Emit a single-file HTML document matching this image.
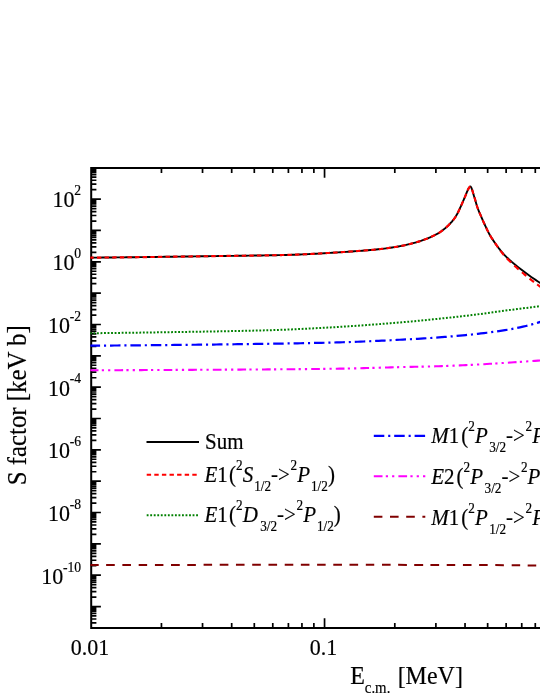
<!DOCTYPE html>
<html><head><meta charset="utf-8"><title>S factor</title>
<style>html,body{margin:0;padding:0;background:#fff;}body{width:540px;height:699px;overflow:hidden;font-family:"Liberation Serif",serif;}svg{display:block;will-change:transform;}</style>
</head><body>
<svg width="540" height="699" viewBox="0 0 540 699">
<rect width="540" height="699" fill="#fff"/>
<g stroke="#000" fill="none">
<path d="M542,168.0 H91.2 V628.0 H542" stroke-width="2"/>
<path d="M91.2,622.93h5.2 M91.2,619.01h5.2 M91.2,615.97h5.2 M91.2,613.49h5.2 M91.2,611.39h5.2 M91.2,609.58h5.2 M91.2,607.97h5.2 M91.2,606.54h9.7 M91.2,597.11h5.2 M91.2,591.59h5.2 M91.2,587.67h5.2 M91.2,584.63h5.2 M91.2,582.15h5.2 M91.2,580.05h5.2 M91.2,578.24h5.2 M91.2,576.63h5.2 M91.2,575.20h9.7 M91.2,565.77h5.2 M91.2,560.25h5.2 M91.2,556.33h5.2 M91.2,553.29h5.2 M91.2,550.81h5.2 M91.2,548.71h5.2 M91.2,546.90h5.2 M91.2,545.29h5.2 M91.2,543.86h9.7 M91.2,534.43h5.2 M91.2,528.91h5.2 M91.2,524.99h5.2 M91.2,521.95h5.2 M91.2,519.47h5.2 M91.2,517.37h5.2 M91.2,515.56h5.2 M91.2,513.95h5.2 M91.2,512.52h9.7 M91.2,503.09h5.2 M91.2,497.57h5.2 M91.2,493.65h5.2 M91.2,490.61h5.2 M91.2,488.13h5.2 M91.2,486.03h5.2 M91.2,484.22h5.2 M91.2,482.61h5.2 M91.2,481.18h9.7 M91.2,471.75h5.2 M91.2,466.23h5.2 M91.2,462.31h5.2 M91.2,459.27h5.2 M91.2,456.79h5.2 M91.2,454.69h5.2 M91.2,452.88h5.2 M91.2,451.27h5.2 M91.2,449.84h9.7 M91.2,440.41h5.2 M91.2,434.89h5.2 M91.2,430.97h5.2 M91.2,427.93h5.2 M91.2,425.45h5.2 M91.2,423.35h5.2 M91.2,421.54h5.2 M91.2,419.93h5.2 M91.2,418.50h9.7 M91.2,409.07h5.2 M91.2,403.55h5.2 M91.2,399.63h5.2 M91.2,396.59h5.2 M91.2,394.11h5.2 M91.2,392.01h5.2 M91.2,390.20h5.2 M91.2,388.59h5.2 M91.2,387.16h9.7 M91.2,377.73h5.2 M91.2,372.21h5.2 M91.2,368.29h5.2 M91.2,365.25h5.2 M91.2,362.77h5.2 M91.2,360.67h5.2 M91.2,358.86h5.2 M91.2,357.25h5.2 M91.2,355.82h9.7 M91.2,346.39h5.2 M91.2,340.87h5.2 M91.2,336.95h5.2 M91.2,333.91h5.2 M91.2,331.43h5.2 M91.2,329.33h5.2 M91.2,327.52h5.2 M91.2,325.91h5.2 M91.2,324.48h9.7 M91.2,315.05h5.2 M91.2,309.53h5.2 M91.2,305.61h5.2 M91.2,302.57h5.2 M91.2,300.09h5.2 M91.2,297.99h5.2 M91.2,296.18h5.2 M91.2,294.57h5.2 M91.2,293.14h9.7 M91.2,283.71h5.2 M91.2,278.19h5.2 M91.2,274.27h5.2 M91.2,271.23h5.2 M91.2,268.75h5.2 M91.2,266.65h5.2 M91.2,264.84h5.2 M91.2,263.23h5.2 M91.2,261.80h9.7 M91.2,252.37h5.2 M91.2,246.85h5.2 M91.2,242.93h5.2 M91.2,239.89h5.2 M91.2,237.41h5.2 M91.2,235.31h5.2 M91.2,233.50h5.2 M91.2,231.89h5.2 M91.2,230.46h9.7 M91.2,221.03h5.2 M91.2,215.51h5.2 M91.2,211.59h5.2 M91.2,208.55h5.2 M91.2,206.07h5.2 M91.2,203.97h5.2 M91.2,202.16h5.2 M91.2,200.55h5.2 M91.2,199.12h9.7 M91.2,189.69h5.2 M91.2,184.17h5.2 M91.2,180.25h5.2 M91.2,177.21h5.2 M91.2,174.73h5.2 M91.2,172.63h5.2 M91.2,170.82h5.2 M91.2,169.21h5.2" stroke-width="1.7"/>
<path d="M161.45,628.0v-5 M161.45,168.0v5 M202.54,628.0v-5 M202.54,168.0v5 M231.69,628.0v-5 M231.69,168.0v5 M254.30,628.0v-5 M254.30,168.0v5 M272.78,628.0v-5 M272.78,168.0v5 M288.40,628.0v-5 M288.40,168.0v5 M301.94,628.0v-5 M301.94,168.0v5 M313.87,628.0v-5 M313.87,168.0v5 M324.55,628.0v-9.7 M324.55,168.0v9.7 M394.80,628.0v-5 M394.80,168.0v5 M435.89,628.0v-5 M435.89,168.0v5 M465.04,628.0v-5 M465.04,168.0v5 M487.65,628.0v-5 M487.65,168.0v5 M506.13,628.0v-5 M506.13,168.0v5 M521.75,628.0v-5 M521.75,168.0v5 M535.29,628.0v-5 M535.29,168.0v5" stroke-width="1.7"/>
</g>
<clipPath id="c"><rect x="90.2" y="168" width="460" height="460"/></clipPath>
<g clip-path="url(#c)" fill="none" stroke-width="2">
<path d="M90.20,257.70 L92.20,257.68 L94.20,257.66 L96.20,257.63 L98.20,257.61 L100.20,257.59 L102.20,257.57 L104.20,257.55 L106.20,257.53 L108.20,257.50 L110.20,257.48 L112.20,257.46 L114.20,257.44 L116.20,257.42 L118.20,257.39 L120.20,257.37 L122.20,257.35 L124.20,257.33 L126.20,257.30 L128.20,257.28 L130.20,257.26 L132.20,257.23 L134.20,257.21 L136.20,257.19 L138.20,257.16 L140.20,257.14 L142.20,257.11 L144.20,257.09 L146.20,257.06 L148.20,257.03 L150.20,257.01 L152.20,256.98 L154.20,256.95 L156.20,256.93 L158.20,256.90 L160.20,256.87 L162.20,256.85 L164.20,256.82 L166.20,256.79 L168.20,256.76 L170.20,256.73 L172.20,256.71 L174.20,256.68 L176.20,256.65 L178.20,256.62 L180.20,256.60 L182.20,256.57 L184.20,256.54 L186.20,256.51 L188.20,256.49 L190.20,256.46 L192.20,256.43 L194.20,256.40 L196.20,256.37 L198.20,256.34 L200.20,256.31 L202.20,256.28 L204.20,256.25 L206.20,256.22 L208.20,256.19 L210.20,256.16 L212.20,256.14 L214.20,256.11 L216.20,256.08 L218.20,256.05 L220.20,256.02 L222.20,255.99 L224.20,255.96 L226.20,255.93 L228.20,255.91 L230.20,255.88 L232.20,255.85 L234.20,255.83 L236.20,255.80 L238.20,255.78 L240.20,255.75 L242.20,255.73 L244.20,255.70 L246.20,255.68 L248.20,255.65 L250.20,255.63 L252.20,255.60 L254.20,255.57 L256.20,255.54 L258.20,255.51 L260.20,255.48 L262.20,255.45 L264.20,255.41 L266.20,255.38 L268.20,255.34 L270.20,255.30 L272.20,255.26 L274.20,255.22 L276.20,255.18 L278.20,255.14 L280.20,255.10 L282.20,255.05 L284.20,255.01 L286.20,254.96 L288.20,254.90 L290.20,254.84 L292.20,254.78 L294.20,254.71 L296.20,254.63 L298.20,254.55 L300.20,254.46 L302.20,254.38 L304.20,254.29 L306.20,254.19 L308.20,254.10 L310.20,254.00 L312.20,253.90 L314.20,253.80 L316.20,253.69 L318.20,253.58 L320.20,253.47 L322.20,253.35 L324.20,253.23 L326.20,253.11 L328.20,252.99 L330.20,252.86 L332.20,252.74 L334.20,252.61 L336.20,252.49 L338.20,252.36 L340.20,252.23 L342.20,252.10 L344.20,251.97 L346.20,251.84 L348.20,251.71 L350.20,251.57 L352.20,251.43 L354.20,251.28 L356.20,251.14 L358.20,250.99 L360.20,250.84 L362.20,250.69 L364.20,250.54 L366.20,250.38 L368.20,250.22 L370.20,250.05 L372.20,249.87 L374.20,249.69 L376.20,249.49 L378.20,249.28 L380.20,249.05 L382.20,248.82 L384.20,248.57 L386.20,248.32 L388.20,248.05 L390.20,247.77 L392.20,247.48 L394.20,247.18 L396.20,246.87 L398.20,246.53 L400.20,246.17 L402.20,245.78 L404.20,245.36 L406.20,244.91 L408.20,244.44 L410.20,243.95 L412.20,243.43 L414.20,242.89 L416.20,242.32 L418.20,241.72 L420.20,241.09 L422.20,240.42 L424.20,239.71 L426.20,238.96 L426.45,238.87 L426.70,238.77 L426.95,238.67 L427.20,238.57 L427.45,238.47 L427.70,238.37 L427.95,238.27 L428.20,238.16 L428.45,238.06 L428.70,237.96 L428.95,237.85 L429.20,237.74 L429.45,237.64 L429.70,237.53 L429.95,237.42 L430.20,237.31 L430.45,237.20 L430.70,237.08 L430.95,236.97 L431.20,236.85 L431.45,236.74 L431.70,236.62 L431.95,236.51 L432.20,236.39 L432.45,236.27 L432.70,236.15 L432.95,236.03 L433.20,235.90 L433.45,235.78 L433.70,235.66 L433.95,235.53 L434.20,235.41 L434.45,235.28 L434.70,235.15 L434.95,235.03 L435.20,234.90 L435.45,234.77 L435.70,234.64 L435.95,234.51 L436.20,234.38 L436.45,234.25 L436.70,234.12 L436.95,233.99 L437.20,233.86 L437.45,233.73 L437.70,233.59 L437.95,233.45 L438.20,233.31 L438.45,233.17 L438.70,233.02 L438.95,232.87 L439.20,232.72 L439.45,232.56 L439.70,232.40 L439.95,232.23 L440.20,232.06 L440.45,231.89 L440.70,231.71 L440.95,231.53 L441.20,231.34 L441.45,231.16 L441.70,230.97 L441.95,230.77 L442.20,230.58 L442.45,230.39 L442.70,230.19 L442.95,230.00 L443.20,229.80 L443.45,229.60 L443.70,229.41 L443.95,229.21 L444.20,229.01 L444.45,228.82 L444.70,228.62 L444.95,228.41 L445.20,228.21 L445.45,228.00 L445.70,227.79 L445.95,227.58 L446.20,227.36 L446.45,227.14 L446.70,226.92 L446.95,226.69 L447.20,226.46 L447.45,226.23 L447.70,225.99 L447.95,225.75 L448.20,225.51 L448.45,225.27 L448.70,225.02 L448.95,224.77 L449.20,224.51 L449.45,224.26 L449.70,224.00 L449.95,223.74 L450.20,223.48 L450.45,223.22 L450.70,222.95 L450.95,222.68 L451.20,222.41 L451.45,222.13 L451.70,221.85 L451.95,221.57 L452.20,221.27 L452.45,220.98 L452.70,220.67 L452.95,220.36 L453.20,220.05 L453.45,219.73 L453.70,219.41 L453.95,219.09 L454.20,218.76 L454.45,218.42 L454.70,218.07 L454.95,217.71 L455.20,217.33 L455.45,216.94 L455.70,216.54 L455.95,216.12 L456.20,215.69 L456.45,215.26 L456.70,214.82 L456.95,214.37 L457.20,213.92 L457.45,213.46 L457.70,212.99 L457.95,212.51 L458.20,212.01 L458.45,211.50 L458.70,210.97 L458.95,210.43 L459.20,209.89 L459.45,209.35 L459.70,208.81 L459.95,208.28 L460.20,207.74 L460.45,207.20 L460.70,206.65 L460.95,206.10 L461.20,205.54 L461.45,204.97 L461.70,204.40 L461.95,203.83 L462.20,203.26 L462.45,202.69 L462.70,202.12 L462.95,201.55 L463.20,200.97 L463.45,200.39 L463.70,199.80 L463.95,199.21 L464.20,198.63 L464.45,198.06 L464.70,197.48 L464.95,196.89 L465.20,196.29 L465.45,195.68 L465.70,195.05 L465.95,194.41 L466.20,193.79 L466.45,193.17 L466.70,192.56 L466.95,191.97 L467.20,191.40 L467.45,190.84 L467.70,190.28 L467.95,189.73 L468.20,189.21 L468.45,188.72 L468.70,188.27 L468.95,187.86 L469.20,187.50 L469.45,187.19 L469.70,186.92 L469.95,186.71 L470.20,186.55 L470.30,186.50 L470.55,186.62 L470.80,186.86 L471.05,187.21 L471.30,187.66 L471.55,188.21 L471.80,188.83 L472.05,189.52 L472.30,190.27 L472.55,191.07 L472.80,191.90 L473.05,192.76 L473.30,193.63 L473.55,194.52 L473.80,195.39 L474.05,196.21 L474.30,197.00 L474.55,197.77 L474.80,198.54 L475.05,199.35 L475.30,200.20 L475.55,201.10 L475.80,202.00 L476.05,202.90 L476.30,203.79 L476.55,204.65 L476.80,205.48 L477.05,206.27 L477.30,207.02 L477.55,207.75 L477.80,208.44 L478.05,209.12 L478.30,209.78 L478.55,210.42 L478.80,211.05 L479.05,211.67 L479.30,212.26 L479.55,212.83 L479.80,213.39 L480.05,213.95 L480.30,214.51 L480.55,215.08 L480.80,215.67 L481.05,216.26 L481.30,216.85 L481.55,217.44 L481.80,218.02 L482.05,218.61 L482.30,219.19 L482.55,219.77 L482.80,220.35 L483.05,220.92 L483.30,221.49 L483.55,222.05 L483.80,222.60 L484.05,223.15 L484.30,223.69 L484.55,224.22 L484.80,224.75 L485.05,225.28 L485.30,225.82 L485.55,226.36 L485.80,226.89 L486.05,227.43 L486.30,227.96 L486.55,228.50 L486.80,229.03 L487.05,229.55 L487.30,230.08 L487.55,230.60 L487.80,231.11 L488.05,231.62 L488.30,232.12 L488.55,232.62 L488.80,233.10 L489.05,233.58 L489.30,234.05 L489.55,234.50 L489.80,234.95 L490.05,235.39 L490.30,235.81 L490.55,236.23 L490.80,236.64 L491.05,237.04 L491.30,237.44 L491.55,237.84 L491.80,238.23 L492.05,238.61 L492.30,238.99 L492.55,239.37 L492.80,239.75 L493.05,240.12 L493.30,240.50 L493.55,240.87 L493.80,241.25 L494.05,241.62 L494.30,241.99 L494.55,242.35 L494.80,242.72 L495.05,243.08 L495.30,243.44 L495.55,243.79 L495.80,244.15 L496.05,244.50 L496.30,244.85 L496.55,245.19 L496.80,245.54 L497.05,245.88 L497.30,246.22 L497.55,246.56 L497.80,246.89 L498.05,247.23 L498.30,247.56 L498.55,247.89 L498.80,248.23 L499.05,248.55 L499.30,248.88 L499.55,249.20 L499.80,249.53 L500.05,249.85 L500.30,250.16 L500.55,250.48 L500.80,250.79 L501.05,251.10 L501.30,251.41 L501.55,251.71 L501.80,252.01 L502.05,252.31 L502.30,252.60 L502.55,252.89 L502.80,253.18 L503.05,253.46 L503.30,253.74 L503.55,254.02 L503.80,254.29 L504.05,254.56 L504.30,254.83 L504.55,255.09 L504.80,255.35 L505.05,255.61 L505.30,255.86 L505.55,256.11 L505.80,256.36 L506.05,256.61 L506.30,256.85 L506.55,257.10 L506.80,257.34 L507.05,257.58 L507.30,257.81 L507.55,258.05 L507.80,258.28 L508.05,258.51 L508.30,258.74 L508.55,258.97 L508.80,259.20 L509.05,259.43 L509.30,259.65 L509.55,259.88 L509.80,260.10 L510.05,260.32 L510.30,260.54 L510.55,260.76 L510.80,260.98 L511.05,261.20 L511.30,261.42 L511.55,261.64 L511.80,261.85 L512.05,262.07 L512.30,262.29 L512.55,262.50 L512.80,262.72 L513.05,262.93 L513.30,263.14 L513.55,263.36 L513.80,263.57 L514.05,263.78 L514.30,263.98 L514.55,264.19 L514.80,264.40 L515.05,264.60 L515.30,264.81 L515.55,265.01 L517.55,266.62 L519.55,268.20 L521.55,269.75 L523.55,271.29 L525.55,272.82 L527.55,274.32 L529.55,275.78 L531.55,277.19 L533.55,278.56 L535.55,279.90 L537.55,281.21 L539.55,282.49 L541.00,283.40" stroke="#000" stroke-width="1.9" stroke-linejoin="miter"/>
<path d="M90.20,257.70 L90.60,257.70 L91.00,257.69 L91.40,257.69 L91.80,257.68 L92.20,257.68 L92.60,257.67 L93.00,257.67 L93.40,257.67 L93.70,257.66 M96.95,257.63 L97.35,257.62 L97.75,257.62 L98.15,257.61 L98.55,257.61 L98.95,257.60 L99.35,257.60 L99.75,257.60 L100.15,257.59 L100.55,257.59 L100.95,257.58 L101.35,257.58 M104.55,257.54 L104.95,257.54 L105.35,257.54 L105.75,257.53 L106.15,257.53 L106.55,257.52 L106.95,257.52 L107.35,257.51 L107.75,257.51 L108.15,257.50 L108.55,257.50 L108.95,257.50 M112.20,257.46 L112.60,257.46 L113.00,257.45 L113.40,257.45 L113.80,257.44 L114.20,257.44 L114.60,257.43 L115.00,257.43 L115.40,257.42 L115.80,257.42 L116.20,257.42 L116.60,257.41 M119.80,257.38 L120.20,257.37 L120.60,257.37 L121.00,257.36 L121.40,257.36 L121.80,257.35 L122.20,257.35 L122.60,257.34 L123.00,257.34 L123.40,257.34 L123.80,257.33 L124.20,257.33 M127.45,257.29 L127.85,257.28 L128.25,257.28 L128.65,257.28 L129.05,257.27 L129.45,257.27 L129.85,257.26 L130.25,257.26 L130.65,257.25 L131.05,257.25 L131.45,257.24 L131.85,257.24 M135.05,257.20 L135.45,257.19 L135.85,257.19 L136.25,257.18 L136.65,257.18 L137.05,257.18 L137.45,257.17 L137.85,257.17 L138.25,257.16 L138.65,257.16 L139.05,257.15 L139.45,257.15 M142.65,257.11 L143.05,257.10 L143.45,257.09 L143.85,257.09 L144.25,257.08 L144.65,257.08 L145.05,257.07 L145.45,257.07 L145.85,257.06 L146.25,257.06 L146.65,257.05 L147.05,257.05 M150.30,257.01 L150.70,257.00 L151.10,257.00 L151.50,256.99 L151.90,256.98 L152.30,256.98 L152.70,256.97 L153.10,256.97 L153.50,256.96 L153.90,256.96 L154.30,256.95 L154.70,256.95 M157.90,256.90 L158.30,256.90 L158.70,256.89 L159.10,256.89 L159.50,256.88 L159.90,256.88 L160.30,256.87 L160.70,256.87 L161.10,256.86 L161.50,256.85 L161.90,256.85 L162.30,256.84 M165.55,256.80 L165.95,256.79 L166.35,256.79 L166.75,256.78 L167.15,256.78 L167.55,256.77 L167.95,256.77 L168.35,256.76 L168.75,256.75 L169.15,256.75 L169.55,256.74 L169.95,256.74 M173.15,256.69 L173.55,256.69 L173.95,256.68 L174.35,256.68 L174.75,256.67 L175.15,256.67 L175.55,256.66 L175.95,256.66 L176.35,256.65 L176.75,256.64 L177.15,256.64 L177.55,256.63 M180.75,256.59 L181.15,256.58 L181.55,256.58 L181.95,256.57 L182.35,256.57 L182.75,256.56 L183.15,256.56 L183.55,256.55 L183.95,256.55 L184.35,256.54 L184.75,256.53 L185.15,256.53 M188.40,256.48 L188.80,256.48 L189.20,256.47 L189.60,256.47 L190.00,256.46 L190.40,256.45 L190.80,256.45 L191.20,256.44 L191.60,256.44 L192.00,256.43 L192.40,256.43 L192.80,256.42 M196.00,256.37 L196.40,256.37 L196.80,256.36 L197.20,256.36 L197.60,256.35 L198.00,256.34 L198.40,256.34 L198.80,256.33 L199.20,256.33 L199.60,256.32 L200.00,256.31 L200.40,256.31 M203.65,256.26 L204.05,256.26 L204.45,256.25 L204.85,256.24 L205.25,256.24 L205.65,256.23 L206.05,256.23 L206.45,256.22 L206.85,256.21 L207.25,256.21 L207.65,256.20 L208.05,256.20 M211.25,256.15 L211.65,256.14 L212.05,256.14 L212.45,256.13 L212.85,256.13 L213.25,256.12 L213.65,256.11 L214.05,256.11 L214.45,256.10 L214.85,256.10 L215.25,256.09 L215.65,256.09 M218.85,256.04 L219.25,256.03 L219.65,256.03 L220.05,256.02 L220.45,256.02 L220.85,256.01 L221.25,256.00 L221.65,256.00 L222.05,255.99 L222.45,255.99 L222.85,255.98 L223.25,255.98 M226.50,255.93 L226.90,255.92 L227.30,255.92 L227.70,255.91 L228.10,255.91 L228.50,255.90 L228.90,255.90 L229.30,255.89 L229.70,255.89 L230.10,255.88 L230.50,255.88 L230.90,255.87 M234.10,255.83 L234.50,255.82 L234.90,255.82 L235.30,255.81 L235.70,255.81 L236.10,255.80 L236.50,255.80 L236.90,255.79 L237.30,255.79 L237.70,255.78 L238.10,255.78 L238.50,255.77 M241.75,255.73 L242.15,255.73 L242.55,255.72 L242.95,255.72 L243.35,255.71 L243.75,255.71 L244.15,255.70 L244.55,255.70 L244.95,255.69 L245.35,255.69 L245.75,255.68 L246.15,255.68 M249.35,255.64 L249.75,255.63 L250.15,255.63 L250.55,255.62 L250.95,255.62 L251.35,255.61 L251.75,255.61 L252.15,255.60 L252.55,255.60 L252.95,255.59 L253.35,255.58 L253.75,255.58 M256.95,255.53 L257.35,255.53 L257.75,255.52 L258.15,255.51 L258.55,255.51 L258.95,255.50 L259.35,255.49 L259.75,255.49 L260.15,255.48 L260.55,255.48 L260.95,255.47 L261.35,255.46 M264.60,255.41 L265.00,255.40 L265.40,255.39 L265.80,255.38 L266.20,255.38 L266.60,255.37 L267.00,255.36 L267.40,255.35 L267.80,255.34 L268.20,255.34 L268.60,255.33 L269.00,255.32 M272.20,255.26 L272.60,255.25 L273.00,255.24 L273.40,255.23 L273.80,255.22 L274.20,255.22 L274.60,255.21 L275.00,255.20 L275.40,255.19 L275.80,255.18 L276.20,255.18 L276.60,255.17 M279.85,255.10 L280.25,255.10 L280.65,255.09 L281.05,255.08 L281.45,255.07 L281.85,255.06 L282.25,255.05 L282.65,255.04 L283.05,255.03 L283.45,255.03 L283.85,255.02 L284.25,255.01 M287.45,254.92 L287.85,254.91 L288.25,254.90 L288.65,254.89 L289.05,254.88 L289.45,254.87 L289.85,254.85 L290.25,254.84 L290.65,254.83 L291.05,254.82 L291.45,254.80 L291.85,254.79 M295.05,254.67 L295.45,254.66 L295.85,254.64 L296.25,254.63 L296.65,254.61 L297.05,254.60 L297.45,254.58 L297.85,254.56 L298.25,254.55 L298.65,254.53 L299.05,254.51 L299.45,254.50 M302.70,254.35 L303.10,254.34 L303.50,254.32 L303.90,254.30 L304.30,254.28 L304.70,254.26 L305.10,254.24 L305.50,254.22 L305.90,254.21 L306.30,254.19 L306.70,254.17 L307.10,254.15 M310.30,253.99 L310.70,253.97 L311.10,253.95 L311.50,253.93 L311.90,253.91 L312.30,253.89 L312.70,253.87 L313.10,253.85 L313.50,253.83 L313.90,253.81 L314.30,253.79 L314.70,253.77 M317.95,253.59 L318.35,253.57 L318.75,253.55 L319.15,253.53 L319.55,253.50 L319.95,253.48 L320.35,253.46 L320.75,253.43 L321.15,253.41 L321.55,253.39 L321.95,253.36 L322.35,253.34 M325.55,253.15 L325.95,253.12 L326.35,253.10 L326.75,253.07 L327.15,253.05 L327.55,253.03 L327.95,253.00 L328.35,252.98 L328.75,252.95 L329.15,252.93 L329.55,252.90 L329.95,252.88 M333.15,252.68 L333.55,252.65 L333.95,252.63 L334.35,252.60 L334.75,252.58 L335.15,252.55 L335.55,252.53 L335.95,252.50 L336.35,252.48 L336.75,252.45 L337.15,252.43 L337.55,252.40 M340.80,252.20 L341.20,252.17 L341.60,252.14 L342.00,252.12 L342.40,252.09 L342.80,252.07 L343.20,252.04 L343.60,252.01 L344.00,251.99 L344.40,251.96 L344.80,251.93 L345.20,251.91 M348.40,251.69 L348.80,251.66 L349.20,251.64 L349.60,251.61 L350.00,251.58 L350.40,251.55 L350.80,251.53 L351.20,251.50 L351.60,251.47 L352.00,251.44 L352.40,251.41 L352.80,251.38 M356.05,251.15 L356.45,251.12 L356.85,251.09 L357.25,251.06 L357.65,251.03 L358.05,251.00 L358.45,250.97 L358.85,250.94 L359.25,250.91 L359.65,250.88 L360.05,250.85 L360.45,250.82 M363.65,250.58 L364.05,250.55 L364.45,250.52 L364.85,250.49 L365.25,250.45 L365.65,250.42 L366.05,250.39 L366.45,250.36 L366.85,250.33 L367.25,250.29 L367.65,250.26 L368.05,250.23 M371.25,249.96 L371.65,249.92 L372.05,249.88 L372.45,249.85 L372.85,249.81 L373.25,249.77 L373.65,249.74 L374.05,249.70 L374.45,249.66 L374.85,249.62 L375.25,249.58 L375.65,249.54 M378.90,249.20 L379.30,249.15 L379.70,249.11 L380.10,249.06 L380.50,249.02 L380.90,248.97 L381.30,248.92 L381.70,248.88 L382.10,248.83 L382.50,248.78 L382.90,248.73 L383.30,248.68 M386.45,248.28 L386.85,248.23 L387.25,248.18 L387.65,248.12 L388.05,248.07 L388.45,248.02 L388.85,247.96 L389.25,247.90 L389.65,247.85 L390.05,247.79 L390.45,247.74 L390.75,247.69 M393.90,247.23 L394.30,247.17 L394.70,247.10 L395.10,247.04 L395.50,246.98 L395.90,246.91 L396.30,246.85 L396.70,246.78 L397.10,246.72 L397.50,246.65 L397.90,246.58 L398.20,246.53 M401.35,245.95 L401.75,245.87 L402.15,245.79 L402.55,245.71 L402.95,245.62 L403.35,245.54 L403.75,245.46 L404.15,245.37 L404.55,245.28 L404.95,245.19 L405.35,245.10 L405.65,245.04 M408.79,244.30 L409.18,244.20 L409.57,244.11 L409.96,244.01 L410.35,243.91 L410.74,243.81 L411.13,243.71 L411.52,243.61 L411.91,243.51 L412.30,243.41 L412.69,243.30 L413.08,243.20 M416.20,242.32 L416.59,242.20 L416.98,242.08 L417.37,241.97 L417.76,241.85 L418.15,241.73 L418.54,241.61 L418.93,241.49 L419.32,241.36 L419.71,241.24 L420.10,241.12 L420.49,240.99 M423.63,239.92 L424.01,239.78 L424.39,239.64 L424.77,239.50 L425.15,239.36 L425.53,239.21 L425.91,239.07 L426.30,238.92 L426.70,238.77 L427.10,238.61 L427.50,238.45 L427.90,238.29 L427.95,238.27 M431.10,236.90 L431.50,236.72 L431.90,236.53 L432.30,236.34 L432.70,236.15 L433.10,235.95 L433.50,235.76 L433.90,235.56 L434.30,235.36 L434.70,235.15 L435.10,234.95 L435.40,234.79 M438.55,233.11 L438.95,232.87 L439.35,232.62 L439.75,232.37 L440.12,232.12 L440.45,231.89 L440.78,231.65 L441.12,231.41 L441.45,231.16 L441.78,230.90 L442.12,230.65 L442.45,230.39 L442.78,230.13 L442.82,230.09 M445.95,227.58 L446.28,227.29 L446.62,227.00 L446.95,226.69 L447.28,226.39 L447.62,226.07 L447.95,225.75 L448.27,225.44 L448.56,225.16 L448.84,224.87 L449.13,224.59 L449.41,224.29 L449.70,224.00 L449.99,223.70 L450.20,223.48 M452.98,220.32 L453.23,220.01 L453.48,219.69 L453.73,219.37 L453.98,219.05 L454.23,218.71 L454.48,218.37 L454.73,218.02 L454.98,217.67 L455.20,217.33 L455.42,216.99 L455.64,216.63 L455.87,216.26 L456.01,216.02 M457.75,212.89 L457.95,212.51 L458.13,212.15 L458.31,211.78 L458.50,211.40 L458.68,211.02 L458.86,210.63 L459.04,210.23 L459.22,209.84 L459.40,209.45 L459.59,209.06 L459.77,208.67 L459.81,208.57 M461.24,205.44 L461.41,205.07 L461.57,204.69 L461.74,204.30 L461.91,203.92 L462.07,203.54 L462.24,203.16 L462.41,202.78 L462.57,202.41 L462.74,202.02 L462.91,201.64 L463.07,201.26 L463.12,201.16 M464.47,198.01 L464.64,197.62 L464.80,197.23 L464.97,196.84 L465.14,196.44 L465.30,196.06 L465.45,195.68 L465.60,195.29 L465.76,194.90 L465.91,194.51 L466.07,194.12 L466.22,193.74 M467.57,190.56 L467.74,190.19 L467.91,189.82 L468.09,189.45 L468.27,189.07 L468.45,188.72 L468.65,188.36 L468.87,188.00 L469.11,187.64 L469.36,187.31 L469.63,187.00 L469.95,186.71 L470.30,186.50 M472.08,189.62 L472.22,190.02 L472.35,190.42 L472.47,190.82 L472.59,191.21 L472.71,191.61 L472.83,192.00 L472.95,192.40 L473.06,192.81 L473.18,193.20 L473.29,193.58 L473.40,193.98 M474.38,197.24 L474.50,197.62 L474.63,198.01 L474.75,198.40 L474.88,198.79 L475.00,199.19 L475.12,199.60 L475.24,200.00 L475.36,200.40 L475.47,200.80 L475.58,201.20 L475.69,201.60 M476.61,204.85 L476.73,205.24 L476.85,205.63 L476.97,206.02 L477.10,206.42 L477.23,206.82 L477.37,207.21 L477.50,207.60 L477.64,207.99 L477.78,208.39 L477.93,208.78 L478.07,209.17 L478.10,209.26 M479.38,212.45 L479.55,212.83 L479.72,213.21 L479.88,213.58 L480.05,213.95 L480.22,214.32 L480.38,214.70 L480.55,215.08 L480.72,215.47 L480.88,215.87 L481.05,216.26 L481.22,216.65 L481.30,216.85 M482.68,220.06 L482.84,220.45 L483.01,220.83 L483.18,221.21 L483.34,221.58 L483.51,221.96 L483.68,222.33 L483.84,222.70 L484.01,223.06 L484.19,223.44 L484.37,223.83 L484.55,224.22 L484.66,224.46 M486.19,227.72 L486.37,228.11 L486.55,228.50 L486.73,228.88 L486.91,229.27 L487.10,229.65 L487.28,230.03 L487.46,230.41 L487.64,230.78 L487.82,231.16 L488.00,231.53 L488.19,231.89 L488.30,232.12 M490.00,235.30 L490.22,235.67 L490.44,236.04 L490.66,236.41 L490.88,236.78 L491.11,237.13 L491.33,237.49 L491.55,237.84 L491.77,238.18 L491.99,238.52 L492.22,238.86 L492.44,239.20 L492.66,239.54 L492.77,239.71 M494.96,242.94 L495.21,243.30 L495.46,243.66 L495.71,244.02 L495.96,244.37 L496.21,244.74 L496.46,245.10 L496.71,245.47 L496.96,245.83 L497.21,246.19 L497.46,246.55 L497.71,246.91 L497.96,247.27 L498.02,247.36 M500.33,250.57 L500.58,250.90 L500.83,251.24 L501.08,251.57 L501.33,251.89 L501.58,252.22 L501.83,252.54 L502.08,252.86 L502.34,253.18 L502.62,253.53 L502.91,253.88 L503.19,254.23 L503.48,254.57 L503.76,254.91 L503.80,254.95 M506.73,258.17 L507.01,258.47 L507.30,258.76 L507.59,259.06 L507.87,259.35 L508.16,259.63 L508.44,259.92 L508.73,260.21 L509.01,260.49 L509.30,260.77 L509.63,261.10 L509.97,261.42 L510.30,261.74 L510.63,262.06 L510.97,262.38 L511.09,262.50 M514.30,265.52 L514.63,265.83 L514.97,266.13 L515.30,266.43 L515.63,266.72 L515.93,266.99 L516.23,267.26 L516.53,267.53 L516.83,267.80 L517.13,268.07 L517.44,268.33 L517.74,268.60 L518.04,268.86 L518.34,269.12 L518.64,269.39 L518.72,269.45 M521.93,272.23 L522.24,272.49 L522.55,272.75 L522.86,273.02 L523.17,273.28 L523.47,273.54 L523.78,273.81 L524.09,274.07 L524.40,274.33 L524.70,274.59 L525.01,274.85 L525.32,275.11 L525.63,275.37 L525.93,275.63 L526.24,275.89 L526.32,275.95 M529.55,278.60 L529.87,278.85 L530.19,279.11 L530.51,279.36 L530.83,279.61 L531.15,279.86 L531.47,280.11 L531.79,280.36 L532.11,280.61 L532.43,280.85 L532.75,281.10 L533.07,281.35 L533.39,281.59 L533.71,281.84 L533.95,282.02 M537.18,284.43 L537.51,284.67 L537.84,284.91 L538.16,285.15 L538.49,285.38 L538.82,285.62 L539.14,285.86 L539.47,286.09 L539.80,286.33 L540.13,286.57 L540.46,286.80 L540.79,287.04 L541.00,287.18" stroke="#ff0000" stroke-width="2.15" stroke-linejoin="miter"/>
<path d="M90.20,333.25 L93.21,333.22 L96.21,333.18 L99.22,333.15 L102.22,333.11 L105.23,333.08 L108.23,333.04 L111.24,333.00 L114.24,332.97 L117.25,332.93 L120.25,332.89 L123.26,332.85 L126.26,332.81 L129.27,332.77 L132.27,332.73 L135.28,332.68 L138.29,332.64 L141.29,332.60 L144.30,332.56 L147.30,332.51 L150.31,332.47 L153.31,332.42 L156.32,332.38 L159.32,332.33 L162.33,332.28 L165.33,332.24 L168.34,332.19 L171.34,332.14 L174.35,332.09 L177.35,332.04 L180.36,331.99 L183.37,331.94 L186.37,331.90 L189.38,331.85 L192.38,331.80 L195.39,331.75 L198.39,331.70 L201.40,331.65 L204.40,331.60 L207.41,331.55 L210.41,331.50 L213.42,331.45 L216.42,331.39 L219.43,331.34 L222.43,331.29 L225.44,331.23 L228.45,331.17 L231.45,331.11 L234.46,331.05 L237.46,330.99 L240.47,330.93 L243.47,330.86 L246.48,330.80 L249.48,330.73 L252.49,330.66 L255.49,330.59 L258.50,330.51 L261.50,330.43 L264.51,330.35 L267.51,330.27 L270.52,330.18 L273.53,330.09 L276.53,330.00 L279.54,329.89 L282.54,329.78 L285.55,329.66 L288.55,329.54 L291.56,329.41 L294.56,329.28 L297.57,329.14 L300.57,329.00 L303.58,328.85 L306.58,328.70 L309.59,328.55 L312.59,328.39 L315.60,328.23 L318.61,328.07 L321.61,327.90 L324.62,327.74 L327.62,327.57 L330.63,327.40 L333.63,327.22 L336.64,327.05 L339.64,326.87 L342.65,326.69 L345.65,326.51 L348.66,326.32 L351.66,326.12 L354.67,325.92 L357.67,325.71 L360.68,325.50 L363.69,325.29 L366.69,325.07 L369.70,324.85 L372.70,324.62 L375.71,324.39 L378.71,324.16 L381.72,323.92 L384.72,323.68 L387.73,323.44 L390.73,323.19 L393.74,322.94 L396.74,322.70 L399.75,322.44 L402.75,322.19 L405.76,321.94 L408.77,321.67 L411.77,321.40 L414.78,321.13 L417.78,320.85 L420.79,320.56 L423.79,320.26 L426.80,319.97 L429.80,319.66 L432.81,319.36 L435.81,319.05 L438.82,318.74 L441.82,318.43 L444.83,318.12 L447.83,317.80 L450.84,317.48 L453.85,317.15 L456.85,316.82 L459.86,316.48 L462.86,316.14 L465.87,315.79 L468.87,315.44 L471.88,315.08 L474.88,314.71 L477.89,314.32 L480.89,313.93 L483.90,313.52 L486.90,313.11 L489.91,312.69 L492.91,312.28 L495.92,311.86 L498.93,311.45 L501.93,311.04 L504.94,310.64 L507.94,310.25 L510.95,309.86 L513.95,309.47 L516.96,309.09 L519.96,308.71 L522.97,308.33 L525.97,307.95 L528.98,307.58 L531.98,307.20 L534.99,306.83 L537.99,306.47 L541.00,306.10" stroke="#008000" stroke-dasharray="1.85 1.68" stroke-dashoffset="0.28"/>
<path d="M90.20,345.70 L93.21,345.68 L96.21,345.66 L99.22,345.64 L102.22,345.61 L105.23,345.59 L108.23,345.57 L111.24,345.54 L114.24,345.52 L117.25,345.49 L120.25,345.47 L123.26,345.44 L126.26,345.42 L129.27,345.39 L132.27,345.36 L135.28,345.34 L138.29,345.31 L141.29,345.28 L144.30,345.26 L147.30,345.23 L150.31,345.20 L153.31,345.17 L156.32,345.14 L159.32,345.11 L162.33,345.08 L165.33,345.05 L168.34,345.02 L171.34,344.99 L174.35,344.96 L177.35,344.93 L180.36,344.90 L183.37,344.86 L186.37,344.83 L189.38,344.80 L192.38,344.77 L195.39,344.73 L198.39,344.70 L201.40,344.67 L204.40,344.63 L207.41,344.60 L210.41,344.56 L213.42,344.53 L216.42,344.49 L219.43,344.45 L222.43,344.42 L225.44,344.38 L228.45,344.34 L231.45,344.30 L234.46,344.26 L237.46,344.22 L240.47,344.18 L243.47,344.14 L246.48,344.10 L249.48,344.06 L252.49,344.01 L255.49,343.97 L258.50,343.93 L261.50,343.88 L264.51,343.84 L267.51,343.79 L270.52,343.74 L273.53,343.69 L276.53,343.65 L279.54,343.60 L282.54,343.55 L285.55,343.50 L288.55,343.45 L291.56,343.40 L294.56,343.34 L297.57,343.29 L300.57,343.23 L303.58,343.18 L306.58,343.12 L309.59,343.06 L312.59,343.00 L315.60,342.93 L318.61,342.87 L321.61,342.80 L324.62,342.73 L327.62,342.66 L330.63,342.58 L333.63,342.50 L336.64,342.42 L339.64,342.34 L342.65,342.25 L345.65,342.16 L348.66,342.06 L351.66,341.95 L354.67,341.84 L357.67,341.73 L360.68,341.61 L363.69,341.48 L366.69,341.36 L369.70,341.23 L372.70,341.09 L375.71,340.96 L378.71,340.81 L381.72,340.67 L384.72,340.53 L387.73,340.38 L390.73,340.23 L393.74,340.08 L396.74,339.93 L399.75,339.77 L402.75,339.62 L405.76,339.46 L408.77,339.30 L411.77,339.14 L414.78,338.96 L417.78,338.79 L420.79,338.61 L423.79,338.42 L426.80,338.23 L429.80,338.03 L432.81,337.82 L435.81,337.61 L438.82,337.39 L441.82,337.17 L444.83,336.94 L447.83,336.70 L450.84,336.45 L453.85,336.19 L456.85,335.93 L459.86,335.66 L462.86,335.37 L465.87,335.08 L468.87,334.78 L471.88,334.47 L474.88,334.14 L477.89,333.81 L480.89,333.46 L483.90,333.11 L486.90,332.73 L489.91,332.35 L492.91,331.94 L495.92,331.53 L498.93,331.09 L501.93,330.64 L504.94,330.17 L507.94,329.68 L510.95,329.15 L513.95,328.58 L516.96,327.98 L519.96,327.34 L522.97,326.67 L525.97,325.97 L528.98,325.21 L531.98,324.40 L534.99,323.54 L537.99,322.64 L541.00,321.70" stroke="#0000ff" stroke-width="2.2" stroke-dasharray="10.5 3.9 2.1 3.9" stroke-dashoffset="0.6"/>
<path d="M90.20,370.30 L93.21,370.29 L96.21,370.28 L99.22,370.26 L102.22,370.25 L105.23,370.24 L108.23,370.23 L111.24,370.21 L114.24,370.20 L117.25,370.19 L120.25,370.18 L123.26,370.16 L126.26,370.15 L129.27,370.14 L132.27,370.12 L135.28,370.11 L138.29,370.10 L141.29,370.08 L144.30,370.07 L147.30,370.06 L150.31,370.04 L153.31,370.03 L156.32,370.01 L159.32,370.00 L162.33,369.99 L165.33,369.97 L168.34,369.96 L171.34,369.94 L174.35,369.93 L177.35,369.91 L180.36,369.90 L183.37,369.88 L186.37,369.87 L189.38,369.85 L192.38,369.84 L195.39,369.82 L198.39,369.81 L201.40,369.80 L204.40,369.78 L207.41,369.77 L210.41,369.75 L213.42,369.74 L216.42,369.72 L219.43,369.71 L222.43,369.69 L225.44,369.67 L228.45,369.66 L231.45,369.64 L234.46,369.63 L237.46,369.61 L240.47,369.59 L243.47,369.57 L246.48,369.56 L249.48,369.54 L252.49,369.52 L255.49,369.50 L258.50,369.48 L261.50,369.46 L264.51,369.44 L267.51,369.42 L270.52,369.40 L273.53,369.37 L276.53,369.35 L279.54,369.33 L282.54,369.30 L285.55,369.28 L288.55,369.25 L291.56,369.23 L294.56,369.20 L297.57,369.17 L300.57,369.14 L303.58,369.11 L306.58,369.08 L309.59,369.05 L312.59,369.02 L315.60,368.98 L318.61,368.95 L321.61,368.91 L324.62,368.88 L327.62,368.84 L330.63,368.80 L333.63,368.76 L336.64,368.71 L339.64,368.67 L342.65,368.62 L345.65,368.56 L348.66,368.50 L351.66,368.43 L354.67,368.37 L357.67,368.29 L360.68,368.22 L363.69,368.14 L366.69,368.06 L369.70,367.97 L372.70,367.89 L375.71,367.81 L378.71,367.72 L381.72,367.63 L384.72,367.55 L387.73,367.46 L390.73,367.38 L393.74,367.29 L396.74,367.21 L399.75,367.13 L402.75,367.06 L405.76,366.98 L408.77,366.91 L411.77,366.84 L414.78,366.78 L417.78,366.71 L420.79,366.65 L423.79,366.58 L426.80,366.51 L429.80,366.44 L432.81,366.37 L435.81,366.29 L438.82,366.20 L441.82,366.10 L444.83,366.00 L447.83,365.89 L450.84,365.78 L453.85,365.65 L456.85,365.53 L459.86,365.39 L462.86,365.26 L465.87,365.12 L468.87,364.98 L471.88,364.83 L474.88,364.68 L477.89,364.52 L480.89,364.36 L483.90,364.18 L486.90,364.00 L489.91,363.82 L492.91,363.63 L495.92,363.44 L498.93,363.25 L501.93,363.06 L504.94,362.87 L507.94,362.68 L510.95,362.48 L513.95,362.28 L516.96,362.08 L519.96,361.88 L522.97,361.68 L525.97,361.47 L528.98,361.26 L531.98,361.05 L534.99,360.83 L537.99,360.62 L541.00,360.40" stroke="#ff00ff" stroke-width="2.1" stroke-dasharray="8.7 3.3 2.2 4.1 2.2 4.1" stroke-dashoffset="0.4"/>
<path d="M90.20,564.90 C146.83,564.90 354.87,564.80 430.00,564.90 C505.13,565.00 522.50,565.40 541.00,565.50" stroke="#800000" stroke-dasharray="8.6 7.6"/>
</g>
<g font-family="'Liberation Serif', serif" fill="#000" stroke="#000" stroke-width="0.18">
<text transform="translate(81.00,195.17) scale(1,1.06)" font-size="13.6" text-anchor="end">2</text>
<text transform="translate(74.60,207.42) scale(1,1.095)" font-size="22" text-anchor="end">10</text>
<text transform="translate(81.00,257.92) scale(1,1.06)" font-size="13.6" text-anchor="end">0</text>
<text transform="translate(74.60,270.17) scale(1,1.095)" font-size="22" text-anchor="end">10</text>
<text transform="translate(81.00,320.66) scale(1,1.06)" font-size="13.6" text-anchor="end">-2</text>
<text transform="translate(70.07,332.91) scale(1,1.095)" font-size="22" text-anchor="end">10</text>
<text transform="translate(81.00,383.41) scale(1,1.06)" font-size="13.6" text-anchor="end">-4</text>
<text transform="translate(70.07,395.66) scale(1,1.095)" font-size="22" text-anchor="end">10</text>
<text transform="translate(81.00,446.15) scale(1,1.06)" font-size="13.6" text-anchor="end">-6</text>
<text transform="translate(70.07,458.40) scale(1,1.095)" font-size="22" text-anchor="end">10</text>
<text transform="translate(81.00,508.90) scale(1,1.06)" font-size="13.6" text-anchor="end">-8</text>
<text transform="translate(70.07,521.15) scale(1,1.095)" font-size="22" text-anchor="end">10</text>
<text transform="translate(81.00,571.65) scale(1,1.06)" font-size="13.6" text-anchor="end">-10</text>
<text transform="translate(63.27,583.90) scale(1,1.095)" font-size="22" text-anchor="end">10</text>
<text transform="translate(90.00,655.30) scale(1,1.095)" font-size="22" text-anchor="middle">0.01</text>
<text transform="translate(323.55,655.30) scale(1,1.095)" font-size="22" text-anchor="middle">0.1</text>
<text transform="translate(25.80,485.20) rotate(-90) scale(1,1.06)" font-size="24.8" text-anchor="start">S factor [keV b]</text>
<text transform="translate(350.20,684.30) scale(1,1.075)" font-size="24" text-anchor="start">E<tspan font-size="14.8" dy="8.3">c.m.</tspan><tspan dy="-8.3" dx="1.3"> [MeV]</tspan></text>
<path d="M146.5,442h52.5" stroke="#000" stroke-width="2" fill="none"/>
<path d="M146.7,474.7h51.5" stroke="#ff0000" stroke-width="2.1" fill="none" stroke-dasharray="4.4 3.2"/>
<path d="M146.7,515.2h51.5" stroke="#008000" stroke-width="2" fill="none" stroke-dasharray="1.85 1.68"/>
<path d="M373.8,435.8h51.5" stroke="#0000ff" stroke-width="2.2" fill="none" stroke-dasharray="10.5 3.9 2.1 3.9"/>
<path d="M373.8,476.2h51.5" stroke="#ff00ff" stroke-width="2.1" fill="none" stroke-dasharray="8.7 3.3 2.2 4.1 2.2 4.1"/>
<path d="M373.8,516.7h51.5" stroke="#800000" stroke-width="2" fill="none" stroke-dasharray="8.6 7.6"/>
<text transform="translate(205.00,448.80) scale(1,1.11)" font-size="21" text-anchor="start">Sum</text>
<text transform="translate(204.50,481.60) scale(1,1.11)" font-size="21" text-anchor="start"><tspan font-style="italic">E</tspan>1<tspan dx="1.3">(</tspan><tspan font-size="13.2" dy="-10.87" dx="0">2</tspan><tspan font-style="italic" dy="10.87">S</tspan><tspan font-size="13.2" dy="8.13" dx="1">1/2</tspan><tspan dy="-8.13">-&gt;</tspan><tspan font-size="13.2" dy="-10.87" dx="0.7">2</tspan><tspan font-style="italic" dy="10.87">P</tspan><tspan font-size="13.2" dy="8.13" dx="1">1/2</tspan><tspan dy="-8.13">)</tspan></text>
<text transform="translate(204.50,522.00) scale(1,1.11)" font-size="21" text-anchor="start"><tspan font-style="italic">E</tspan>1<tspan dx="1.3">(</tspan><tspan font-size="13.2" dy="-10.87" dx="0">2</tspan><tspan font-style="italic" dy="10.87">D</tspan><tspan font-size="13.2" dy="8.13" dx="2.3">3/2</tspan><tspan dy="-8.13">-&gt;</tspan><tspan font-size="13.2" dy="-10.87" dx="0.7">2</tspan><tspan font-style="italic" dy="10.87">P</tspan><tspan font-size="13.2" dy="8.13" dx="1">1/2</tspan><tspan dy="-8.13">)</tspan></text>
<text transform="translate(431.30,442.80) scale(1,1.11)" font-size="21" text-anchor="start"><tspan font-style="italic">M</tspan>1<tspan dx="2.0">(</tspan><tspan font-size="13.2" dy="-10.87" dx="0">2</tspan><tspan font-style="italic" dy="10.87">P</tspan><tspan font-size="13.2" dy="8.13" dx="1.5">3/2</tspan><tspan dy="-8.13">-&gt;</tspan><tspan font-size="13.2" dy="-10.87" dx="0.7">2</tspan><tspan font-style="italic" dy="10.87">P</tspan><tspan font-size="13.2" dy="8.13" dx="1">1/2</tspan><tspan dy="-8.13">)</tspan></text>
<text transform="translate(431.30,484.10) scale(1,1.11)" font-size="21" text-anchor="start"><tspan font-style="italic">E</tspan>2<tspan dx="2.0">(</tspan><tspan font-size="13.2" dy="-10.87" dx="0">2</tspan><tspan font-style="italic" dy="10.87">P</tspan><tspan font-size="13.2" dy="8.13" dx="1.5">3/2</tspan><tspan dy="-8.13">-&gt;</tspan><tspan font-size="13.2" dy="-10.87" dx="0.7">2</tspan><tspan font-style="italic" dy="10.87">P</tspan><tspan font-size="13.2" dy="8.13" dx="1">1/2</tspan><tspan dy="-8.13">)</tspan></text>
<text transform="translate(431.30,524.70) scale(1,1.11)" font-size="21" text-anchor="start"><tspan font-style="italic">M</tspan>1<tspan dx="2.0">(</tspan><tspan font-size="13.2" dy="-10.87" dx="0">2</tspan><tspan font-style="italic" dy="10.87">P</tspan><tspan font-size="13.2" dy="8.13" dx="1.5">1/2</tspan><tspan dy="-8.13">-&gt;</tspan><tspan font-size="13.2" dy="-10.87" dx="0.7">2</tspan><tspan font-style="italic" dy="10.87">P</tspan><tspan font-size="13.2" dy="8.13" dx="1">1/2</tspan><tspan dy="-8.13">)</tspan></text>
</g>
</svg>
</body></html>
